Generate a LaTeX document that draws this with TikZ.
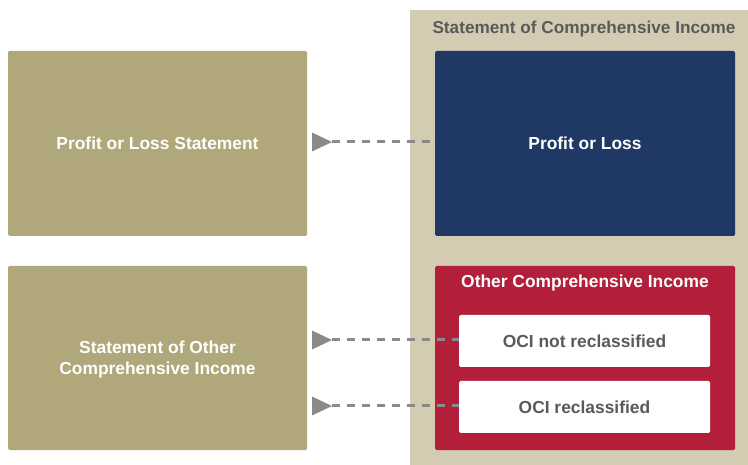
\documentclass[tikz,border=0pt]{standalone}
\usepackage{fontspec}
\setmainfont{Liberation Sans}
\usetikzlibrary{arrows.meta}
\definecolor{khaki}{HTML}{B0A77A}
\definecolor{beige}{HTML}{D3CCB3}
\definecolor{navy}{HTML}{1F3864}
\definecolor{crimson}{HTML}{B31E3A}
\definecolor{titlegrey}{HTML}{5A5A5A}
\definecolor{linegrey}{HTML}{8A8A8A}
\tikzset{
  box/.style={rounded corners=1.5pt, inner sep=0pt, font=\bfseries\fontsize{17.4}{21}\selectfont, text=white, align=center},
  conn/.style={draw=linegrey, line width=3pt, dash pattern=on 8pt off 7pt, {Triangle[reversed,length=20pt,width=19pt,line width=0pt,fill=linegrey]}-},
}
\begin{document}
\begin{tikzpicture}[x=1pt,y=-1pt]
\useasboundingbox (0,0) rectangle (748,465);
% left boxes
\path[fill=khaki,rounded corners=1.5pt] (8,51) rectangle (307,236);
\node[box] (pls) at (157.5,143.5) {Profit or Loss Statement};
\coordinate (plsE) at (312,142);
\path[fill=khaki,rounded corners=1.5pt] (8,266) rectangle (307,450);
\node[box] (soci) at (157.5,360) {Statement of Other\\Comprehensive Income};
\coordinate (sociA) at (312,340);
\coordinate (sociB) at (312,406);
% right container
\path[fill=beige] (410,10) rectangle (748,465);
\node[font=\bfseries\fontsize{17.2}{20}\selectfont, text=titlegrey] (sci) at (584,29) {Statement of Comprehensive Income};
\path[fill=navy,rounded corners=1.5pt] (435,51) rectangle (735,236);
\node[box] (pl) at (585,143.5) {Profit or Loss};
\coordinate (plW) at (437,142);
\path[fill=crimson,rounded corners=1.5pt] (435,266) rectangle (735,450);
\node[box] (oci) at (585,283) {Other Comprehensive Income};
\path[fill=white,rounded corners=1.5pt] (459,315) rectangle (710,367);
\node[box,text=titlegrey] (ocin) at (584.5,341) {OCI not reclassified};
\path[fill=white,rounded corners=1.5pt] (459,381) rectangle (710,433);
\node[box,text=titlegrey] (ocir) at (584.5,407) {OCI reclassified};
\coordinate (ocinW) at (459,340);
\coordinate (ocirW) at (459,406);
% connectors
\draw[conn] (plsE) -- (plW);
\draw[conn] (sociA) -- (ocinW);
\draw[conn] (sociB) -- (ocirW);
\end{tikzpicture}
\end{document}
